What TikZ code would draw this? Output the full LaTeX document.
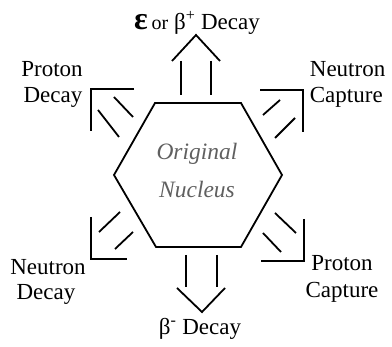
\documentclass[tikz,border=0pt]{standalone}
\usepackage{fontspec}
\setmainfont{Liberation Serif}
\usetikzlibrary{calc}
\definecolor{NucGray}{RGB}{96,96,96}

\begin{document}
\begin{tikzpicture}[x=1pt,y=-1pt,line width=1.8pt,
    lbl/.style={inner sep=0pt,anchor=base,font=\fontsize{23}{26}\selectfont},
    nuc/.style={lbl,text=NucGray,font=\fontsize{23.5}{26}\selectfont\itshape}]
      \useasboundingbox (0,0) rectangle (392,347);
      % hexagon
      \coordinate (H1) at (155,103);
      \coordinate (H2) at (241,103);
      \coordinate (H3) at (282,175);
      \coordinate (H4) at (241,247);
      \coordinate (H5) at (156,247);
      \coordinate (H6) at (114,175);
      \draw (H1)--(H2)--(H3)--(H4)--(H5)--(H6)--cycle;
      \node[nuc] (orig) at (197,160) {Original};
      \node[nuc] (nucl) at (197,198) {Nucleus};
      % up: epsilon or beta+
      \draw (181,61)--(181,95);
      \draw (211,61)--(211,95);
      \draw (172,61)--(196,35)--(220,61);
      % down: beta-
      \draw (186,255)--(186,287);
      \draw (217,255)--(217,287);
      \draw (177,288)--(202,312)--(225,288);
      % upper left: proton decay
      \draw (114,97)--(133,117);
      \draw (98,110)--(119,137);
      \draw (134,89)--(91,89)--(91,131);
      % upper right: neutron capture
      \draw (280,100)--(263,115);
      \draw (295,118)--(275,138);
      \draw (260,90)--(303,90)--(303,132);
      % lower left: neutron decay
      \draw (120,212)--(99,232);
      \draw (133,232)--(115,249);
      \draw (91,217)--(91,259)--(127,259);
      % lower right: proton capture
      \draw (275,213)--(296,233);
      \draw (263,233)--(281,252);
      \draw (304,219)--(304,261)--(261,261);
      % labels
      \node[lbl] (ecTop) at (197,30) {{\fontsize{32}{32}\selectfont\bfseries ε}\,{\fontsize{20}{22}\selectfont or} β\textsuperscript{+} Decay};
      \node[lbl] (bmBot) at (200,335) {β\textsuperscript{-} Decay};
      \node[lbl] (pdA) at (52,77) {Proton};
      \node[lbl] (pdB) at (53,103) {Decay};
      \node[lbl,anchor=base west] (ncA) at (309,77) {Neutron};
      \node[lbl,anchor=base west] (ncB) at (309,103) {Capture};
      \node[lbl] (ndA) at (48,275) {Neutron};
      \node[lbl] (ndB) at (46,300) {Decay};
      \node[lbl] (pcA) at (342,271) {Proton};
      \node[lbl] (pcB) at (342,298) {Capture};
\end{tikzpicture}
\end{document}
